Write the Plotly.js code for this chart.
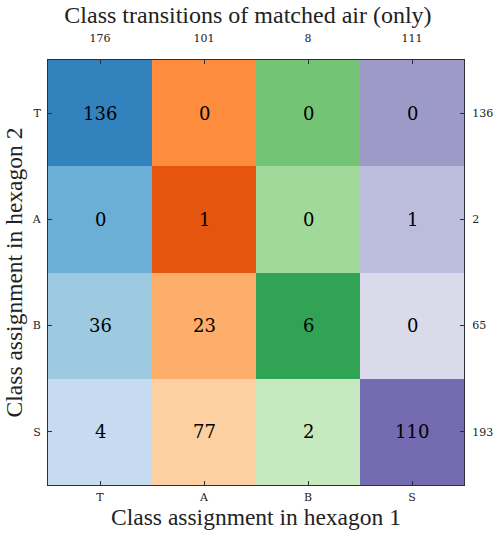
<!DOCTYPE html>
<html>
<head>
<meta charset="utf-8">
<script src="https://cdn.plot.ly/plotly-3.0.1.min.js"></script>
<style>html,body{margin:0;padding:0;background:#fff;}#chart{width:500px;height:536px;}</style>
</head>
<body>
<div id="chart"></div>
<script>
// Classes (columns = hexagon 1, rows = hexagon 2)
const classes = ['T', 'A', 'B', 'S'];
// Transition counts: counts[row][col]
const rowT = [136, 0, 0, 0];
const rowA = [0, 1, 0, 1];
const rowB = [36, 23, 6, 0];
const rowS = [4, 77, 2, 110];
const counts = [rowT, rowA, rowB, rowS];
// Column totals (top axis) and row totals (right axis)
const colTotals = [176, 101, 8, 111];
const rowTotals = [136, 2, 65, 193];
// Per-column palettes (tab20c families), darkest first
const blues   = ['#3182bd', '#6baed6', '#9ecae1', '#c6dbef'];
const oranges = ['#e6550d', '#fd8d3c', '#fdae6b', '#fdd0a2'];
const greens  = ['#31a354', '#74c476', '#a1d99b', '#c7e9c0'];
const purples = ['#756bb1', '#9e9ac8', '#bcbddc', '#dadaeb'];
const palettes = [blues, oranges, greens, purples];

// Shade index: diagonal darkest, off-diagonal in row order
const shadeIdx = [[], [], [], []];
for (let c = 0; c < 4; c++) {
  let k = 1;
  for (let r = 0; r < 4; r++) {
    shadeIdx[r][c] = (r === c) ? 0 : k++;
  }
}
const zColor = counts.map((row, r) => row.map((v, c) => c * 4 + shadeIdx[r][c]));
const colorscale = [];
const flat = [].concat(...palettes);
flat.forEach((col, i) => {
  colorscale.push([i / 16, col]);
  colorscale.push([(i + 1) / 16, col]);
});

const FONT = 'Liberation Serif';
const NUMFONT = 'DejaVu Serif';
const lineCol = '#2e2e3a';

const annotations = [];
counts.forEach((row, r) => row.forEach((v, c) => {
  annotations.push({
    x: classes[c], y: classes[r], xref: 'x', yref: 'y',
    text: String(v), showarrow: false,
    font: {family: NUMFONT, size: 18, color: '#000'}
  });
}));

const data = [
  {
    type: 'heatmap',
    x: classes, y: classes, z: zColor,
    colorscale: colorscale, zmin: -0.5, zmax: 15.5,
    showscale: false, hoverinfo: 'skip', xgap: 0, ygap: 0
  },
  {
    type: 'scatter', x: [0], y: [0], xaxis: 'x2', yaxis: 'y2',
    mode: 'markers', marker: {opacity: 0}, hoverinfo: 'skip', showlegend: false
  }
];

const axisCommon = {
  showline: true, linecolor: lineCol, linewidth: 1,
  ticks: 'inside', ticklen: 4, tickcolor: lineCol, tickwidth: 1,
  showgrid: false, zeroline: false,
  tickfont: {family: NUMFONT, size: 11, color: '#222'}
};

const layout = {
  width: 500, height: 536,
  margin: {l: 48, r: 36, t: 60, b: 51},
  paper_bgcolor: '#fff', plot_bgcolor: '#fff',
  showlegend: false,
  font: {family: FONT, color: '#222'},
  annotations: annotations,
  title: {
    text: 'Class transitions of matched air (only)',
    font: {family: FONT, size: 24, color: '#222'},
    x: 0.496, xanchor: 'center', y: 0.972, yanchor: 'middle', yref: 'container'
  },
  xaxis: Object.assign({}, axisCommon, {
    type: 'category', categoryarray: classes, range: [-0.5, 3.5],
    ticklabelstandoff: 2,
    title: {text: 'Class assignment in hexagon 1', font: {family: FONT, size: 23.5, color: '#222'}, standoff: 2}
  }),
  yaxis: Object.assign({}, axisCommon, {
    type: 'category', categoryarray: classes, range: [3.5, -0.5],
    ticklabelstandoff: 4,
    title: {text: 'Class assignment in hexagon 2', font: {family: FONT, size: 23.5, color: '#222'}, standoff: 2}
  }),
  xaxis2: Object.assign({}, axisCommon, {
    overlaying: 'x', side: 'top', range: [-0.5, 3.5],
    tickmode: 'array', tickvals: [0, 1, 2, 3], ticktext: colTotals.map(String),
    ticklabelstandoff: 13
  }),
  yaxis2: Object.assign({}, axisCommon, {
    overlaying: 'y', side: 'right', range: [3.5, -0.5],
    tickmode: 'array', tickvals: [0, 1, 2, 3], ticktext: rowTotals.map(String),
    ticklabelstandoff: 5
  })
};

Plotly.newPlot('chart', data, layout, {displayModeBar: false, staticPlot: true});
</script>
</body>
</html>
